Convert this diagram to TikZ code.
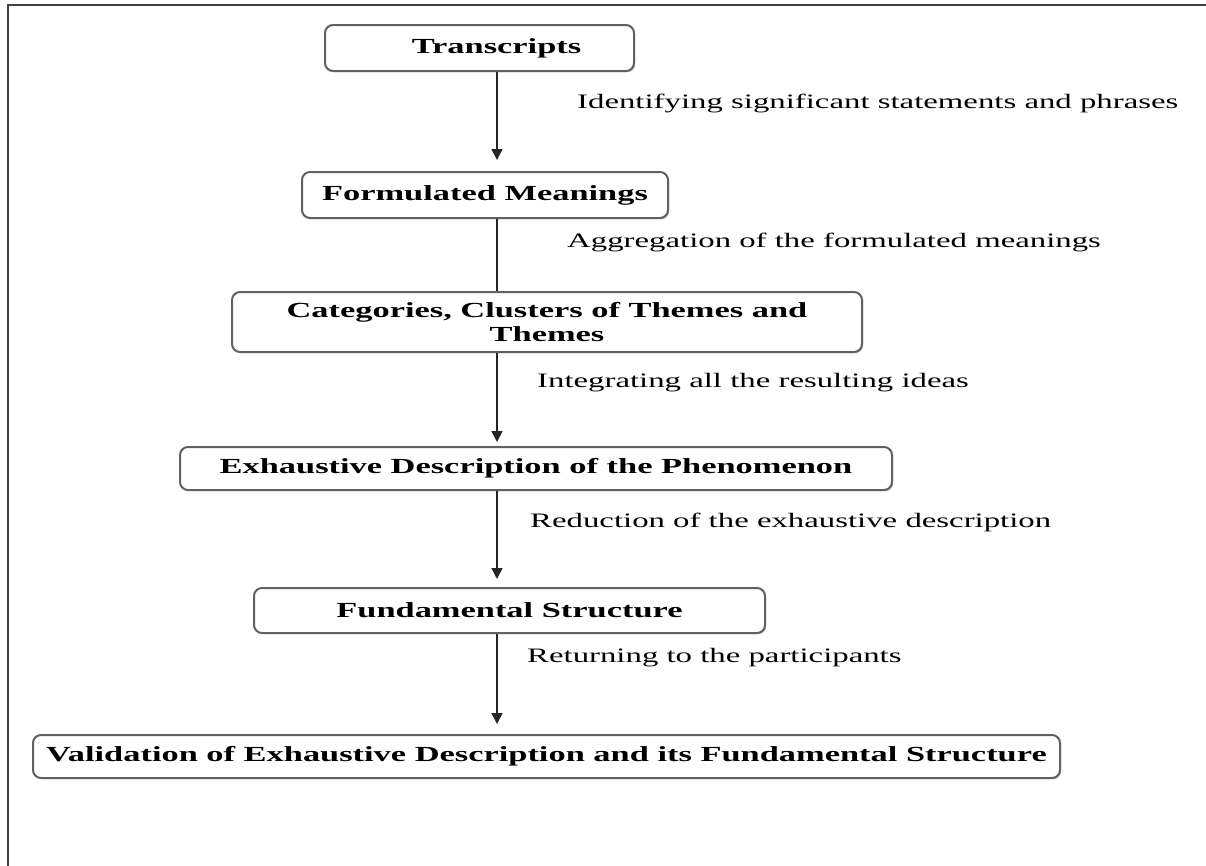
\documentclass[tikz,border=0pt]{standalone}
\usepackage{fontspec}
\setmainfont{Liberation Serif}
\newfontfamily\widefont[FakeStretch=1.6]{Liberation Serif}
\usetikzlibrary{arrows.meta,shadows}

\begin{document}
\begin{tikzpicture}[x=1pt,y=-1pt,
  stage/.style={draw=black!62, line width=2pt, rounded corners=8pt, fill=white,
    inner sep=0pt, align=center,
    font=\widefont\bfseries\fontsize{21.5}{24}\selectfont,
    drop shadow={shadow xshift=1.2pt, shadow yshift=-1.2pt, opacity=0.45, fill=black!60}},
  note/.style={anchor=west, inner sep=0pt, font=\widefont\fontsize{20.5}{24}\selectfont},
  flow/.style={line width=1.6pt, draw=black!85},
  tip/.style={-{Triangle[width=11pt,length=11pt]}}
]
\useasboundingbox (0,0) rectangle (1206,865);

% page frame (continues past the right and bottom edges)
\draw[line width=2pt, black!75] (8,866) -- (8,5) -- (1207,5);

% process stages
\node[stage, minimum width=309pt, minimum height=46pt] (b1) at (479.5,48) {\hspace*{34pt}Transcripts};
\node[stage, minimum width=366pt, minimum height=46pt] (b2) at (485,195) {Formulated Meanings};
\node[stage, minimum width=630pt, minimum height=60pt] (b3) at (547,322) {Categories, Clusters of Themes and\\Themes};
\node[stage, minimum width=712pt, minimum height=43pt] (b4) at (536,468.5) {Exhaustive Description of the Phenomenon};
\node[stage, minimum width=511pt, minimum height=45pt] (b5) at (509.5,610.5) {Fundamental Structure};
\node[stage, minimum width=1027pt, minimum height=43pt] (b6) at (546.5,756.5) {Validation of Exhaustive Description and its Fundamental Structure};

% vertical flow axis
\coordinate (axis) at (497,0);

\draw[flow,tip,shorten >=11pt] (b1.south -| axis) -- (b2.north -| axis);
\draw[flow] (b2.south -| axis) -- (b3.north -| axis);
\draw[flow,tip,shorten >=4pt] (b3.south -| axis) -- (b4.north -| axis);
\draw[flow,tip,shorten >=8pt] (b4.south -| axis) -- (b5.north -| axis);
\draw[flow,tip,shorten >=10pt] (b5.south -| axis) -- (b6.north -| axis);

% step descriptions
\node[note] (l1) at (577,103) {Identifying significant statements and phrases};
\node[note] (l2) at (567,242) {Aggregation of the formulated meanings};
\node[note] (l3) at (537,383) {Integrating all the resulting ideas};
\node[note] (l4) at (530,522) {Reduction of the exhaustive description};
\node[note] (l5) at (527,658) {Returning to the participants};
\end{tikzpicture}
\end{document}
